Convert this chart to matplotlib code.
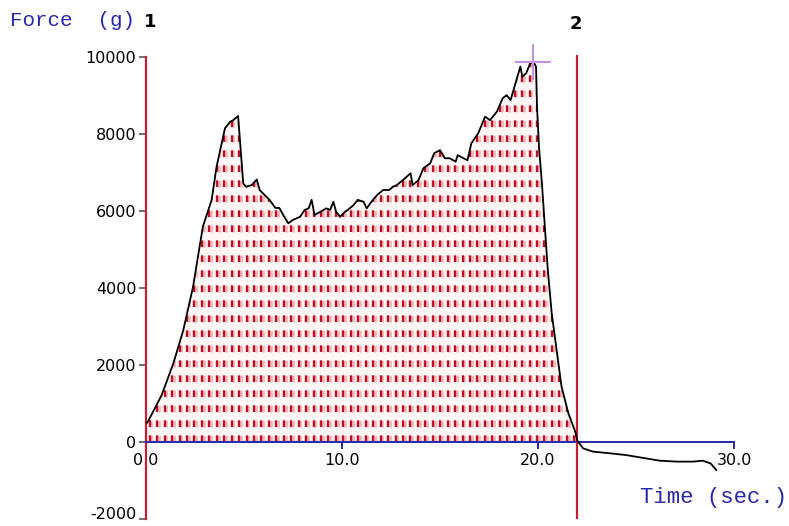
import matplotlib.pyplot as plt
import numpy as np

plt.rcParams['lines.scale_dashes'] = False
plt.rcParams['font.family'] = 'DejaVu Sans'

# force curve (time in s, force in g)
time_s = [0.05, 0.1, 0.8, 1.4, 1.9, 2.4, 2.9, 3.35, 3.6, 4.03,
          4.3, 4.45, 4.7, 4.96, 5.1, 5.4, 5.65, 5.8, 6.3, 6.6,
          6.8, 7.0, 7.26, 7.5, 7.86, 8.1, 8.3, 8.45, 8.6, 8.9,
          9.2, 9.4, 9.56, 9.7, 9.9, 10.15, 10.3, 10.6, 10.8, 11.1,
          11.26, 11.5, 11.8, 12.1, 12.4, 12.6, 12.8, 13.1, 13.3, 13.5,
          13.6, 13.9, 14.15, 14.5, 14.7, 15.0, 15.25, 15.5, 15.8, 15.9,
          16.2, 16.4, 16.6, 16.95, 17.3, 17.55, 17.9, 18.2, 18.4, 18.6,
          18.8, 19.1, 19.2, 19.4, 19.6, 19.76, 19.9, 19.95, 20.05, 20.2,
          20.35, 20.5, 20.7, 20.95, 21.2, 21.55, 21.9, 22.0, 22.3, 22.8,
          23.7, 24.5, 25.5, 26.2, 27.1, 27.9, 28.4, 28.8, 29.1]
force_g = [500, 530, 1220, 2050, 2900, 4030, 5590, 6290, 7150, 8150,
           8320, 8360, 8470, 6720, 6630, 6675, 6820, 6545, 6290, 6080,
           6080, 5900, 5680, 5770, 5850, 6030, 6070, 6290, 5900, 5980,
           6070, 6030, 6240, 5980, 5850, 5980, 6030, 6160, 6290, 6240,
           6070, 6240, 6420, 6545, 6545, 6630, 6675, 6800, 6890, 6980,
           6675, 6800, 7110, 7240, 7500, 7580, 7370, 7370, 7280, 7450,
           7370, 7320, 7760, 8020, 8450, 8360, 8580, 8930, 9010, 8880,
           9230, 9750, 9490, 9580, 9840, 9880, 9750, 8710, 7670, 6720,
           5590, 4470, 3340, 2390, 1440, 745, 270, 40, -165, -250,
           -295, -340, -425, -485, -510, -510, -485, -555, -730]

marker2_t = 22.0
x_ticks = [0, 10, 20, 30]
x_labels = ['0.0', '10.0', '20.0', '30.0']
y_ticks = [-2000, 0, 2000, 4000, 6000, 8000, 10000]

red = '#c41e32'
blue = '#2828a8'

t = np.array(time_s)
f = np.array(force_g)

fig = plt.figure(figsize=(7.89, 5.26), dpi=100)
ax = fig.add_axes([0, 0, 1, 1])
ax.set_xlim(-7.449, 32.806)
ax.set_ylim(-2182, 11481)

# shaded area with dashed red hatch clipped to it
poly = ax.fill_between(t, f, 0, where=f >= 0, interpolate=True,
                       facecolor='#fff6f6', edgecolor='none', zorder=1)
clip = poly.get_paths()[0]
cols = np.arange(0.19, 22.5, 0.38)
light = ax.vlines(cols + 0.09, 0, 10500, colors='#f7b4bc', linewidth=2.0,
                  linestyles=[(0, (4.8, 6.0))], zorder=2)
light.set_clip_path(clip, ax.transData)
dark = ax.vlines(cols, 0, 10500, colors='#bd1020', linewidth=1.7,
                 linestyles=[(0, (4.8, 6.0))], zorder=2)
dark.set_clip_path(clip, ax.transData)

ax.plot(t, f, color='black', lw=1.3, zorder=4)

# peak cursor
i = np.argmax(f)
ax.plot(t[i], f[i], marker='+', ms=26, mew=1.5, color='#c890e0', zorder=5)

ax.vlines(marker2_t, -2000, 10050, color=red, lw=1.6, zorder=3)

for s in ['top', 'right']:
    ax.spines[s].set_visible(False)
ax.spines['left'].set_position(('data', 0))
ax.spines['left'].set_bounds(-2000, 10000)
ax.spines['left'].set_color(red)
ax.spines['left'].set_linewidth(1.6)
ax.spines['bottom'].set_position(('data', 0))
ax.spines['bottom'].set_bounds(0, 30)
ax.spines['bottom'].set_color(blue)
ax.spines['bottom'].set_linewidth(1.4)

ax.set_xticks(x_ticks)
ax.set_xticklabels(x_labels)
ax.set_yticks(y_ticks)
ax.set_yticklabels([str(v) for v in y_ticks])
ax.tick_params(axis='x', direction='out', length=5, width=1.4, color=blue,
               labelcolor='black', labelsize=11.5, pad=3)
ax.tick_params(axis='y', direction='out', length=5, width=1.2, color='#555555',
               labelcolor='black', labelsize=11.5, pad=2)
for lab in ax.get_yticklabels():
    if lab.get_text() == '-2000':
        lab.set_va('baseline')

fig.text(10 / 789, 1 - 21 / 526, 'Force  (g)', family='Liberation Mono',
         fontsize=15, color=blue, va='center', ha='left')
fig.text(640 / 789, 1 - 497 / 526, 'Time (sec.)', family='Liberation Mono',
         fontsize=16, color=blue, va='center', ha='left')
fig.text(150 / 789, 1 - 22 / 526, '1', fontsize=13, fontweight='bold',
         color='black', va='center', ha='center')
fig.text(576 / 789, 1 - 24 / 526, '2', fontsize=13, fontweight='bold',
         color='black', va='center', ha='center')

fig.savefig('out.png', dpi=100)
